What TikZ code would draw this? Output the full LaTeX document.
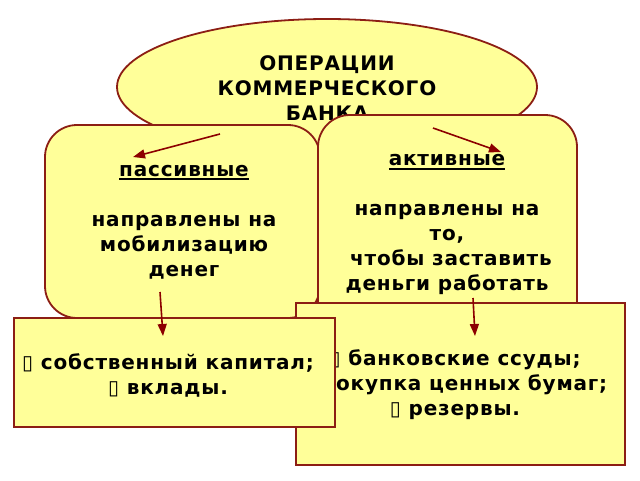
\documentclass[tikz,border=0pt]{standalone}
\usepackage{fontspec}
\setmainfont{DejaVu Sans}[LetterSpace=4]
\newfontfamily\symfont{DejaVu Sans}
\usetikzlibrary{shapes.geometric,arrows.meta}
\definecolor{boxfill}{RGB}{255,255,153}
\definecolor{boxline}{RGB}{140,30,20}
\definecolor{arrowred}{RGB}{140,0,0}
\newcommand{\mbx}{{\symfont\mdseries ▯}}
\newcommand{\ulw}[1]{\setbox0\hbox{#1}\rlap{\rule[-4pt]{\wd0}{2pt}}\box0}
\begin{document}
\begin{tikzpicture}[x=1pt,y=-1pt,
  shapebase/.style={draw=boxline,fill=boxfill,line width=1.8pt,inner sep=0pt},
  txt/.style={font=\fontsize{20}{25}\selectfont\bfseries,align=center,text=black,inner sep=0pt},
  conn/.style={draw=arrowred,line width=1.6pt,-{Triangle[length=12pt,width=9pt]}}]
\useasboundingbox (0,0) rectangle (640,480);
\fill[white] (0,0) rectangle (640,480);
% top ellipse
\node[shapebase,ellipse,minimum width=420pt,minimum height=136pt] (top) at (327,87) {};
\node[txt] (toptxt) at (327,88) {ОПЕРАЦИИ\\КОММЕРЧЕСКОГО\\БАНКА};
% passive box
\node[shapebase,rectangle,rounded corners=32pt,minimum width=275pt,minimum height=193pt] (pas) at (182.5,221.5) {};
\node[txt] (pastxt) at (184,222) {\ulw{пассивные}\\[25pt]направлены на\\мобилизацию\\денег};
% active box
\node[shapebase,rectangle,rounded corners=32pt,minimum width=259pt,minimum height=220pt] (act) at (447.5,225) {};
\node[txt] (acttxt) at (447,224.5) {\ulw{активные}\\[25pt]направлены на\\то,\\~чтобы заставить\\деньги работать};
% lower right box
\node[shapebase,rectangle,minimum width=329pt,minimum height=162pt] (actlist) at (460.5,384) {};
\node[txt] (actlisttxt) at (455,385) {\mbx{} банковские ссуды;\\\mbx{} покупка ценных бумаг;\\\mbx{} резервы.};
% lower left box
\node[shapebase,rectangle,minimum width=321pt,minimum height=109pt] (paslist) at (174.5,372.5) {};
\node[txt] (paslisttxt) at (168,375) {\mbx{} собственный капитал;\\\mbx{} вклады.};
% arrow ends
\coordinate (a1s) at (220,134);
\coordinate (a1e) at (133,157);
\coordinate (a2s) at (433,128);
\coordinate (a2e) at (501,152);
\coordinate (a3s) at (160,292);
\coordinate (a3e) at (163,336);
\coordinate (a4s) at (473,298);
\coordinate (a4e) at (475,336);
\draw[conn] (a1s) -- (a1e);
\draw[conn] (a2s) -- (a2e);
\draw[conn] (a3s) -- (a3e);
\draw[conn] (a4s) -- (a4e);
\end{tikzpicture}
\end{document}
